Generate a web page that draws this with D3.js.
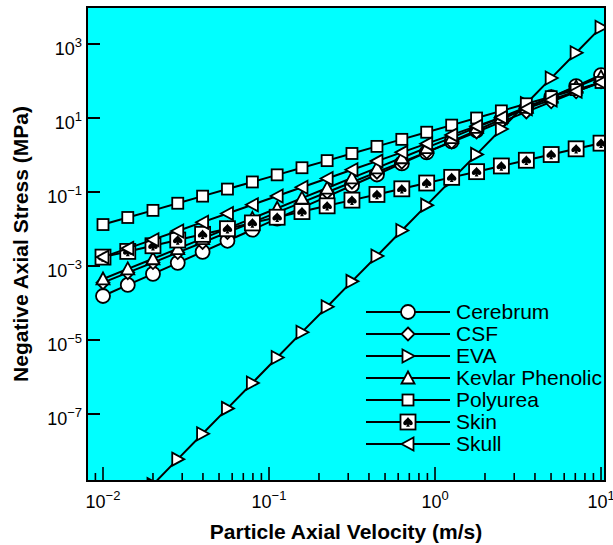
<!DOCTYPE html>
<html>
<head>
<meta charset="utf-8">
<script src="https://cdn.jsdelivr.net/npm/d3@7"></script>
<style>
body { margin: 0; background: #fff; }
svg { display: block; font-family: "Liberation Sans", Arial, sans-serif; }
</style>
</head>
<body>
<div id="chart"></div>
<script>
const width = 613;
const height = 545;

// particle axial velocity (m/s)
const velocity = [0.01, 0.0141, 0.02, 0.0282, 0.0398, 0.0562, 0.0794, 0.112, 0.158, 0.224, 0.316,
    0.447, 0.631, 0.891, 1.26, 1.78, 2.51, 3.55, 5.01, 7.08, 10.0];

// negative axial stress (MPa)
const cerebrum = [1.55e-4, 3.08e-4, 6.12e-4, 1.22e-3, 2.42e-3, 4.81e-3, 9.57e-3, 0.019, 0.0378, 0.0752, 0.15,
    0.297, 0.592, 1.18, 2.34, 4.65, 9.25, 18.4, 36.6, 72.7, 145];
const csf = [3.55e-4, 6.63e-4, 1.24e-3, 2.31e-3, 4.33e-3, 8.08e-3, 0.0151, 0.0282, 0.0527, 0.0985, 0.184,
    0.344, 0.643, 1.2, 2.24, 4.19, 7.83, 14.6, 27.4, 51.1, 95.5];
const eva = [5.25e-11, 2.55e-10, 1.24e-9, 6.03e-9, 2.93e-8, 1.42e-7, 6.91e-7, 3.36e-6, 1.63e-5, 7.93e-5, 3.85e-4,
    1.87e-3, 9.09e-3, 0.0442, 0.215, 1.04, 5.06, 24.6, 120, 581, 2822];
const kevlar = [4.47e-4, 8.38e-4, 1.57e-3, 2.94e-3, 5.52e-3, 0.0104, 0.0194, 0.0364, 0.0682, 0.128, 0.24,
    0.45, 0.843, 1.58, 2.96, 5.56, 10.4, 19.5, 36.6, 68.7, 129];
const polyurea = [0.0132, 0.0205, 0.0319, 0.0497, 0.0773, 0.12, 0.187, 0.291, 0.453, 0.705, 1.1,
    1.71, 2.65, 4.13, 6.43, 10.0, 15.6, 24.2, 37.7, 58.6, 91.2];
const skin = [1.74e-3, 2.48e-3, 3.53e-3, 5.04e-3, 7.18e-3, 0.0102, 0.0146, 0.0208, 0.0296, 0.0423, 0.0603,
    0.0859, 0.122, 0.175, 0.249, 0.355, 0.506, 0.721, 1.03, 1.47, 2.09];
const skull = [1.74e-3, 2.99e-3, 5.15e-3, 8.87e-3, 0.0153, 0.0263, 0.0453, 0.078, 0.134, 0.231, 0.398,
    0.685, 1.18, 2.03, 3.5, 6.03, 10.4, 17.9, 30.8, 53.0, 91.2];

const seriesNames = ["Cerebrum", "CSF", "EVA", "Kevlar Phenolic", "Polyurea", "Skin", "Skull"];
const seriesValues = [cerebrum, csf, eva, kevlar, polyurea, skin, skull];
const seriesMarkers = ["circle", "diamond", "triRight", "triUp", "square", "spadeSquare", "triLeft"];

const xTickExponents = [-2, -1, 0, 1];
const yTickExponents = [3, 1, -1, -3, -5, -7];

const plot = {left: 87, right: 605, top: 7, bottom: 481};

const x = d3.scaleLog()
    .domain([Math.pow(10, -2.0964), Math.pow(10, 1.024)])
    .range([plot.left, plot.right]);
const y = d3.scaleLog()
    .domain([Math.pow(10, -8.81), 1e4])
    .range([plot.bottom, plot.top]);

const svg = d3.select("#chart").append("svg")
    .attr("width", width)
    .attr("height", height);

svg.append("defs").append("clipPath")
    .attr("id", "plotclip")
    .append("rect")
    .attr("x", plot.left)
    .attr("y", plot.top)
    .attr("width", plot.right - plot.left)
    .attr("height", plot.bottom - plot.top);

svg.append("rect")
    .attr("x", plot.left)
    .attr("y", plot.top)
    .attr("width", plot.right - plot.left)
    .attr("height", plot.bottom - plot.top)
    .attr("fill", "#00ffff");

const spade = "M0,-5.2C-1,-3.2 -5,-1.2 -5,1.4C-5,3.6 -2.4,4.2 -0.8,2.4L-2,5L2,5L0.8,2.4C2.4,4.2 5,3.6 5,1.4C5,-1.2 1,-3.2 0,-5.2Z";

function drawMarker(g, type) {
    if (type === "circle") {
        g.append("circle").attr("r", 7);
    } else if (type === "diamond") {
        g.append("path").attr("d", "M0,-6.5L6.5,0L0,6.5L-6.5,0Z");
    } else if (type === "triRight") {
        g.append("path").attr("d", "M-5.5,-6.5L6.5,0L-5.5,6.5Z");
    } else if (type === "triUp") {
        g.append("path").attr("d", "M0,-6.5L6.5,5.5L-6.5,5.5Z");
    } else if (type === "square") {
        g.append("rect").attr("x", -5.5).attr("y", -5.5).attr("width", 11).attr("height", 11);
    } else if (type === "spadeSquare") {
        g.append("rect").attr("x", -7.5).attr("y", -7.5).attr("width", 15).attr("height", 15);
        g.append("path").attr("d", spade).attr("fill", "#000").attr("stroke", "none")
            .attr("transform", "scale(0.95)");
    } else if (type === "triLeft") {
        g.append("path").attr("d", "M5.5,-6.5L-6.5,0L5.5,6.5Z");
    }
}

// Series
const line = d3.line()
    .x((d, i) => x(velocity[i]))
    .y(d => y(d));

const dataLayer = svg.append("g").attr("clip-path", "url(#plotclip)");

seriesValues.forEach((values, s) => {
    const g = dataLayer.append("g");
    g.append("path")
        .attr("d", line(values))
        .attr("fill", "none")
        .attr("stroke", "#000")
        .attr("stroke-width", 2);
    g.selectAll("g.pt")
        .data(values)
        .join("g")
        .attr("class", "pt")
        .attr("transform", (d, i) => `translate(${x(velocity[i])},${y(d)})`)
        .attr("fill", "#fff")
        .attr("stroke", "#000")
        .attr("stroke-width", 1.8)
        .each(function() { drawMarker(d3.select(this), seriesMarkers[s]); });
});

// Axes ticks (inside)
const xTicks = x.ticks();
svg.append("g")
    .selectAll("line")
    .data(xTicks)
    .join("line")
    .attr("x1", d => x(d))
    .attr("x2", d => x(d))
    .attr("y1", plot.bottom)
    .attr("y2", d => Number.isInteger(Math.round(Math.log10(d) * 1000) / 1000) ? plot.bottom - 14 : plot.bottom - 8)
    .attr("stroke", "#000")
    .attr("stroke-width", 1.6);

svg.append("g")
    .selectAll("line")
    .data(yTickExponents)
    .join("line")
    .attr("x1", plot.left)
    .attr("x2", plot.left + 13)
    .attr("y1", d => y(Math.pow(10, d)))
    .attr("y2", d => y(Math.pow(10, d)))
    .attr("stroke", "#000")
    .attr("stroke-width", 2);

function expLabel(text, e) {
    text.append("tspan").text("10");
    text.append("tspan")
        .attr("dy", -8)
        .attr("font-size", 13)
        .text(e < 0 ? "\u2212" + Math.abs(e) : String(e));
}

svg.append("g")
    .selectAll("text")
    .data(xTickExponents)
    .join("text")
    .attr("x", d => x(Math.pow(10, d)))
    .attr("y", 508)
    .attr("text-anchor", "middle")
    .attr("font-size", 18)
    .each(function(d) { expLabel(d3.select(this), d); });

svg.append("g")
    .selectAll("text")
    .data(yTickExponents)
    .join("text")
    .attr("x", 82)
    .attr("y", d => y(Math.pow(10, d)) + 11)
    .attr("text-anchor", "end")
    .attr("font-size", 18)
    .each(function(d) { expLabel(d3.select(this), d); });

// Border
svg.append("rect")
    .attr("x", plot.left)
    .attr("y", plot.top)
    .attr("width", plot.right - plot.left)
    .attr("height", plot.bottom - plot.top)
    .attr("fill", "none")
    .attr("stroke", "#000")
    .attr("stroke-width", 2);

// Axis titles
svg.append("text")
    .attr("x", (plot.left + plot.right) / 2)
    .attr("y", 539)
    .attr("text-anchor", "middle")
    .attr("font-size", 21)
    .attr("font-weight", "bold")
    .text("Particle Axial Velocity (m/s)");

svg.append("text")
    .attr("transform", `translate(28,${(plot.top + plot.bottom) / 2}) rotate(-90)`)
    .attr("text-anchor", "middle")
    .attr("font-size", 21)
    .attr("font-weight", "bold")
    .text("Negative Axial Stress (MPa)");

// Legend
const legend = svg.append("g")
    .selectAll("g")
    .data(seriesNames)
    .join("g")
    .attr("transform", (d, i) => `translate(0,${312 + i * 22})`);

legend.append("line")
    .attr("x1", 366)
    .attr("x2", 450)
    .attr("stroke", "#000")
    .attr("stroke-width", 2);

legend.append("g")
    .attr("transform", "translate(408,0)")
    .attr("fill", "#fff")
    .attr("stroke", "#000")
    .attr("stroke-width", 1.8)
    .each(function(d, i) { drawMarker(d3.select(this), seriesMarkers[i]); });

legend.append("text")
    .attr("x", 456)
    .attr("y", 7)
    .attr("font-size", 21)
    .text(d => d);
</script>
</body>
</html>
